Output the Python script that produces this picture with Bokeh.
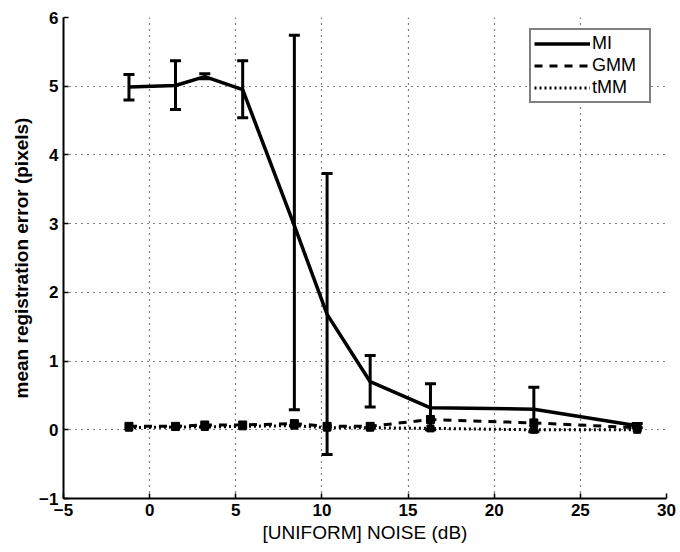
from bokeh.plotting import figure
from bokeh.models import ColumnDataSource, Whisker, TeeHead, Legend, LegendItem, Range1d, FixedTicker
from bokeh.embed import file_html
from bokeh.resources import INLINE

# Data
noise_db = [-1.2, 1.5, 3.2, 5.4, 8.4, 10.3, 12.8, 16.3, 22.3, 28.3]
mi_mean = [4.99, 5.01, 5.14, 4.95, 2.97, 1.68, 0.70, 0.32, 0.30, 0.06]
mi_upper = [5.17, 5.37, 5.18, 5.37, 5.74, 3.73, 1.08, 0.67, 0.62, 0.09]
mi_lower = [4.80, 4.66, 5.11, 4.54, 0.29, -0.36, 0.33, 0.00, -0.03, 0.03]
gmm_mean = [0.05, 0.05, 0.07, 0.07, 0.09, 0.05, 0.05, 0.15, 0.10, 0.03]
tmm_mean = [0.03, 0.04, 0.04, 0.05, 0.06, 0.03, 0.03, 0.02, 0.00, 0.00]
x_ticks = [-5, 0, 5, 10, 15, 20, 25, 30]
y_ticks = [-1, 0, 1, 2, 3, 4, 5, 6]

FONT = "Liberation Sans"

p = figure(width=680, height=552, output_backend="svg", toolbar_location=None,
           x_range=Range1d(-5, 30), y_range=Range1d(-1, 6),
           min_border_left=63, min_border_right=14, min_border_top=17, min_border_bottom=54)
p.background_fill_color = "white"
p.border_fill_color = "white"
p.outline_line_color = None

for ax in (p.xaxis[0], p.yaxis[0]):
    ax.axis_line_color = "black"
    ax.axis_line_width = 2
    ax.major_tick_in = 5
    ax.major_tick_out = 0
    ax.minor_tick_line_color = None
    ax.major_tick_line_width = 1.5
    ax.major_label_text_font = FONT
    ax.major_label_text_font_size = "17px"
    ax.major_label_text_font_style = "bold"
    ax.major_label_text_color = "black"
    ax.axis_label_text_font = FONT
    ax.axis_label_text_color = "black"

p.xaxis[0].ticker = FixedTicker(ticks=x_ticks)
p.yaxis[0].ticker = FixedTicker(ticks=y_ticks)
p.xaxis[0].axis_label = "[UNIFORM] NOISE (dB)"
p.yaxis[0].axis_label = "mean registration error (pixels)"
p.xaxis[0].axis_label_text_font_size = "19px"
p.xaxis[0].axis_label_text_font_style = "normal"
p.yaxis[0].axis_label_text_font_size = "19px"
p.yaxis[0].axis_label_text_font_style = "bold"
p.xaxis[0].axis_label_standoff = 3
p.yaxis[0].axis_label_standoff = 4
p.xaxis[0].major_label_standoff = 5
p.yaxis[0].major_label_standoff = 5

for g in (p.xgrid[0], p.ygrid[0]):
    g.grid_line_color = "black"
    g.grid_line_dash = "1 5"
    g.grid_line_width = 1.2

src = ColumnDataSource(dict(x=noise_db, mi=mi_mean, up=mi_upper, lo=mi_lower,
                            gmm=gmm_mean, tmm=tmm_mean))

r_tmm = p.line("x", "tmm", source=src, line_color="black", line_width=3, line_dash="2 3")
r_gmm = p.line("x", "gmm", source=src, line_color="black", line_width=3, line_dash="8 7")
p.scatter("x", "gmm", source=src, marker="square", size=8, fill_color="black", line_color="black")
p.scatter("x", "tmm", source=src, marker="square", size=7, fill_color="black", line_color="black")
r_mi = p.line("x", "mi", source=src, line_color="black", line_width=3.5)

w = Whisker(source=src, base="x", upper="up", lower="lo", line_color="black", line_width=3,
            upper_head=TeeHead(size=11, line_width=3, line_color="black"),
            lower_head=TeeHead(size=11, line_width=3, line_color="black"))
p.add_layout(w)

legend = Legend(items=[LegendItem(label="MI", renderers=[r_mi]),
                       LegendItem(label="GMM", renderers=[r_gmm]),
                       LegendItem(label="tMM", renderers=[r_tmm])],
                location=(466, 395))
legend.border_line_color = "black"
legend.border_line_width = 2
legend.background_fill_color = "white"
legend.background_fill_alpha = 1
legend.label_text_font = FONT
legend.label_text_font_size = "18px"
legend.label_text_color = "black"
legend.glyph_width = 56
legend.glyph_height = 19
legend.label_standoff = 2
legend.label_height = 19
legend.label_width = 54
legend.spacing = 1
legend.padding = 3
legend.margin = 0
p.add_layout(legend)

open("out.html", "w").write(file_html(p, INLINE))
